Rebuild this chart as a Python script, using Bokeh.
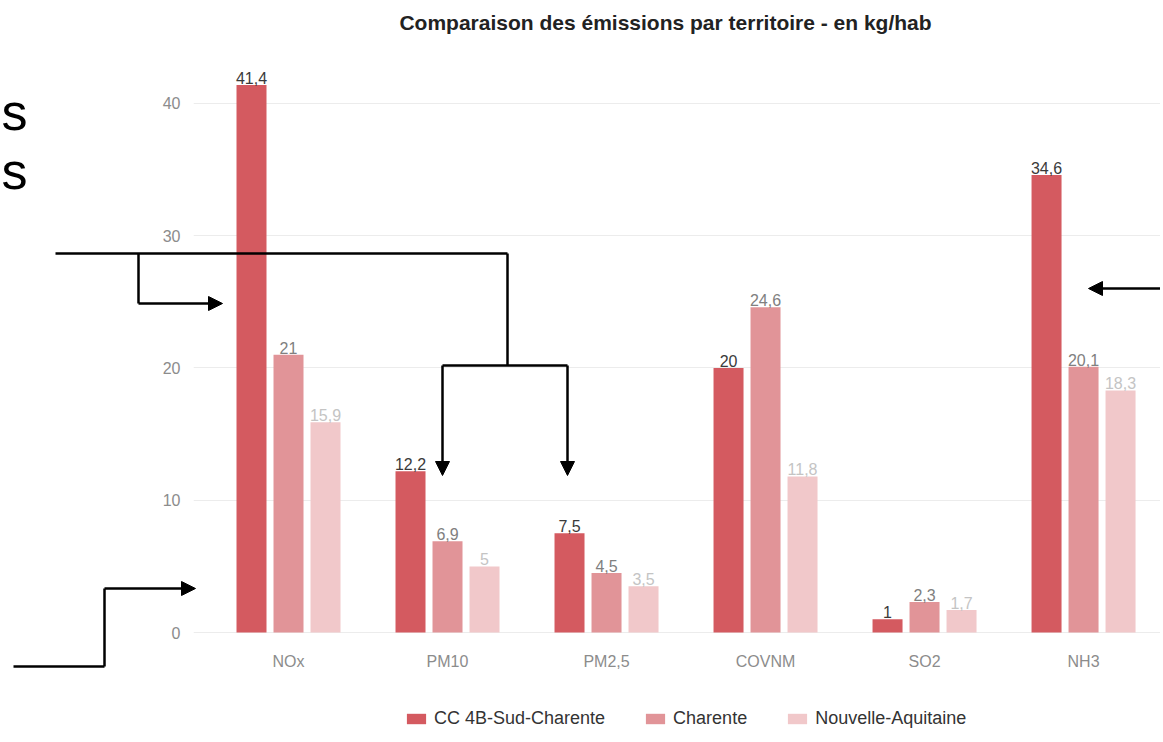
from bokeh.plotting import figure
from bokeh.models import (ColumnDataSource, Range1d, Legend, LegendItem, Label,
                          Arrow, NormalHead, FixedTicker)
from bokeh.core.properties import value
from bokeh.embed import file_html
from bokeh.resources import INLINE

categories = ["NOx", "PM10", "PM2,5", "COVNM", "SO2", "NH3"]
series_names = ["CC 4B-Sud-Charente", "Charente", "Nouvelle-Aquitaine"]
cc4b = [41.4, 12.2, 7.5, 20, 1, 34.6]
charente = [21, 6.9, 4.5, 24.6, 2.3, 20.1]
nouvelle_aquitaine = [15.9, 5, 3.5, 11.8, 1.7, 18.3]
y_ticks = [0, 10, 20, 30, 40]
title_text = "Comparaison des émissions par territoire - en kg/hab"

bar_colors = ["#d45a60", "#e19498", "#f1c8ca"]
label_colors = ["#3a3a3a", "#808080", "#c4c4c4"]
FONT = "Liberation Sans"


def fmt(v):
    s = ("%.1f" % v).rstrip("0").rstrip(".")
    return s.replace(".", ",")


W, H = 1160, 740
series = [cc4b, charente, nouvelle_aquitaine]

# ---------------- main chart ----------------
p = figure(width=W, height=H, output_backend="svg", toolbar_location=None,
           x_range=Range1d(-0.5975, 5.484), y_range=Range1d(-0.98, 42.87),
           min_border_left=193, min_border_right=0, min_border_top=65,
           min_border_bottom=H - 645)
p.outline_line_color = None
p.background_fill_color = "white"
p.border_fill_color = "white"

offset = 37 / 159
bw = 30 / 159
for j, vals in enumerate(series):
    xs = [i + (j - 1) * offset for i in range(len(categories))]
    src = ColumnDataSource(dict(x=xs, top=vals, lab=[fmt(v) for v in vals]))
    p.vbar(x="x", top="top", width=bw, bottom=0, source=src,
           fill_color=bar_colors[j], line_color=None)
    p.text(x="x", y="top", text="lab", source=src, text_align="center",
           text_baseline="bottom", y_offset=-1, text_font=value(FONT),
           text_font_size="16px", text_color=label_colors[j])

p.xaxis.ticker = FixedTicker(ticks=list(range(len(categories))))
p.xaxis.major_label_overrides = {i: c for i, c in enumerate(categories)}
p.yaxis.ticker = FixedTicker(ticks=y_ticks)
for ax in (p.xaxis, p.yaxis):
    ax.axis_line_color = None
    ax.major_tick_line_color = None
    ax.minor_tick_line_color = None
    ax.major_tick_out = 0
    ax.major_tick_in = 0
    ax.minor_tick_out = 0
    ax.minor_tick_in = 0
    ax.major_label_text_font = FONT
    ax.major_label_text_font_size = "16px"
    ax.major_label_text_color = "#8c8c8c"
p.xaxis.major_label_standoff = 7
p.yaxis.major_label_standoff = 13
p.xgrid.grid_line_color = None
p.ygrid.ticker = FixedTicker(ticks=y_ticks)
p.ygrid.grid_line_color = "#ececec"
p.ygrid.grid_line_width = 1

# ---------------- overlay (title, legend, annotations) ----------------
ov = figure(width=W, height=H, output_backend="svg", toolbar_location=None,
            x_range=Range1d(0, W), y_range=Range1d(H, 0),
            x_axis_type=None, y_axis_type=None,
            min_border_left=0, min_border_right=0, min_border_top=0, min_border_bottom=0)
ov.outline_line_color = None
ov.grid.visible = False
ov.background_fill_alpha = 0
ov.border_fill_alpha = 0
ov.margin = (-H, 0, 0, 0)

proxies = [ov.vbar(x=list(range(len(categories))), top=vals, width=0.5,
                   fill_color=c, line_color=None, visible=False)
           for vals, c in zip(series, bar_colors)]
legend = Legend(items=[LegendItem(label=n, renderers=[r]) for n, r in zip(series_names, proxies)],
                orientation="horizontal", location=(404, H - 729), padding=0, margin=0,
                spacing=38, glyph_width=24, glyph_height=13, label_standoff=6,
                label_text_font=FONT, label_text_font_size="18px",
                label_text_color="#333333", border_line_color=None,
                background_fill_alpha=0)
ov.add_layout(legend, "center")

ov.add_layout(Label(x=665, y=22, text=title_text,
                    text_font=FONT, text_font_size="21px", text_font_style="bold",
                    text_color="#222222", text_align="center", text_baseline="middle"))

for (lx, ly) in [(1, 111), (1, 170)]:
    ov.add_layout(Label(x=lx, y=ly, text="s", text_font=FONT, text_font_size="52px",
                        text_color="black", text_align="left", text_baseline="middle"))

plain = [((55, 253), (507, 253)), ((138, 253), (138, 303)), ((507, 253), (507, 365)),
         ((442, 365), (567, 365)), ((13, 666), (104, 666)), ((104, 666), (104, 588))]
headed = [((138, 303), (222, 303)), ((442, 365), (442, 475)), ((567, 365), (567, 475)),
          ((104, 588), (195, 588)), ((1160, 288), (1088, 288))]
for (a, b) in plain:
    ov.add_layout(Arrow(x_start=a[0], y_start=a[1], x_end=b[0], y_end=b[1], end=None,
                        line_color="black", line_width=2.5))
for (a, b) in headed:
    ov.add_layout(Arrow(x_start=a[0], y_start=a[1], x_end=b[0], y_end=b[1],
                        end=NormalHead(size=14, fill_color="black", line_color="black"),
                        line_color="black", line_width=2.5))

open("out.html", "w").write(file_html([p, ov], INLINE))
